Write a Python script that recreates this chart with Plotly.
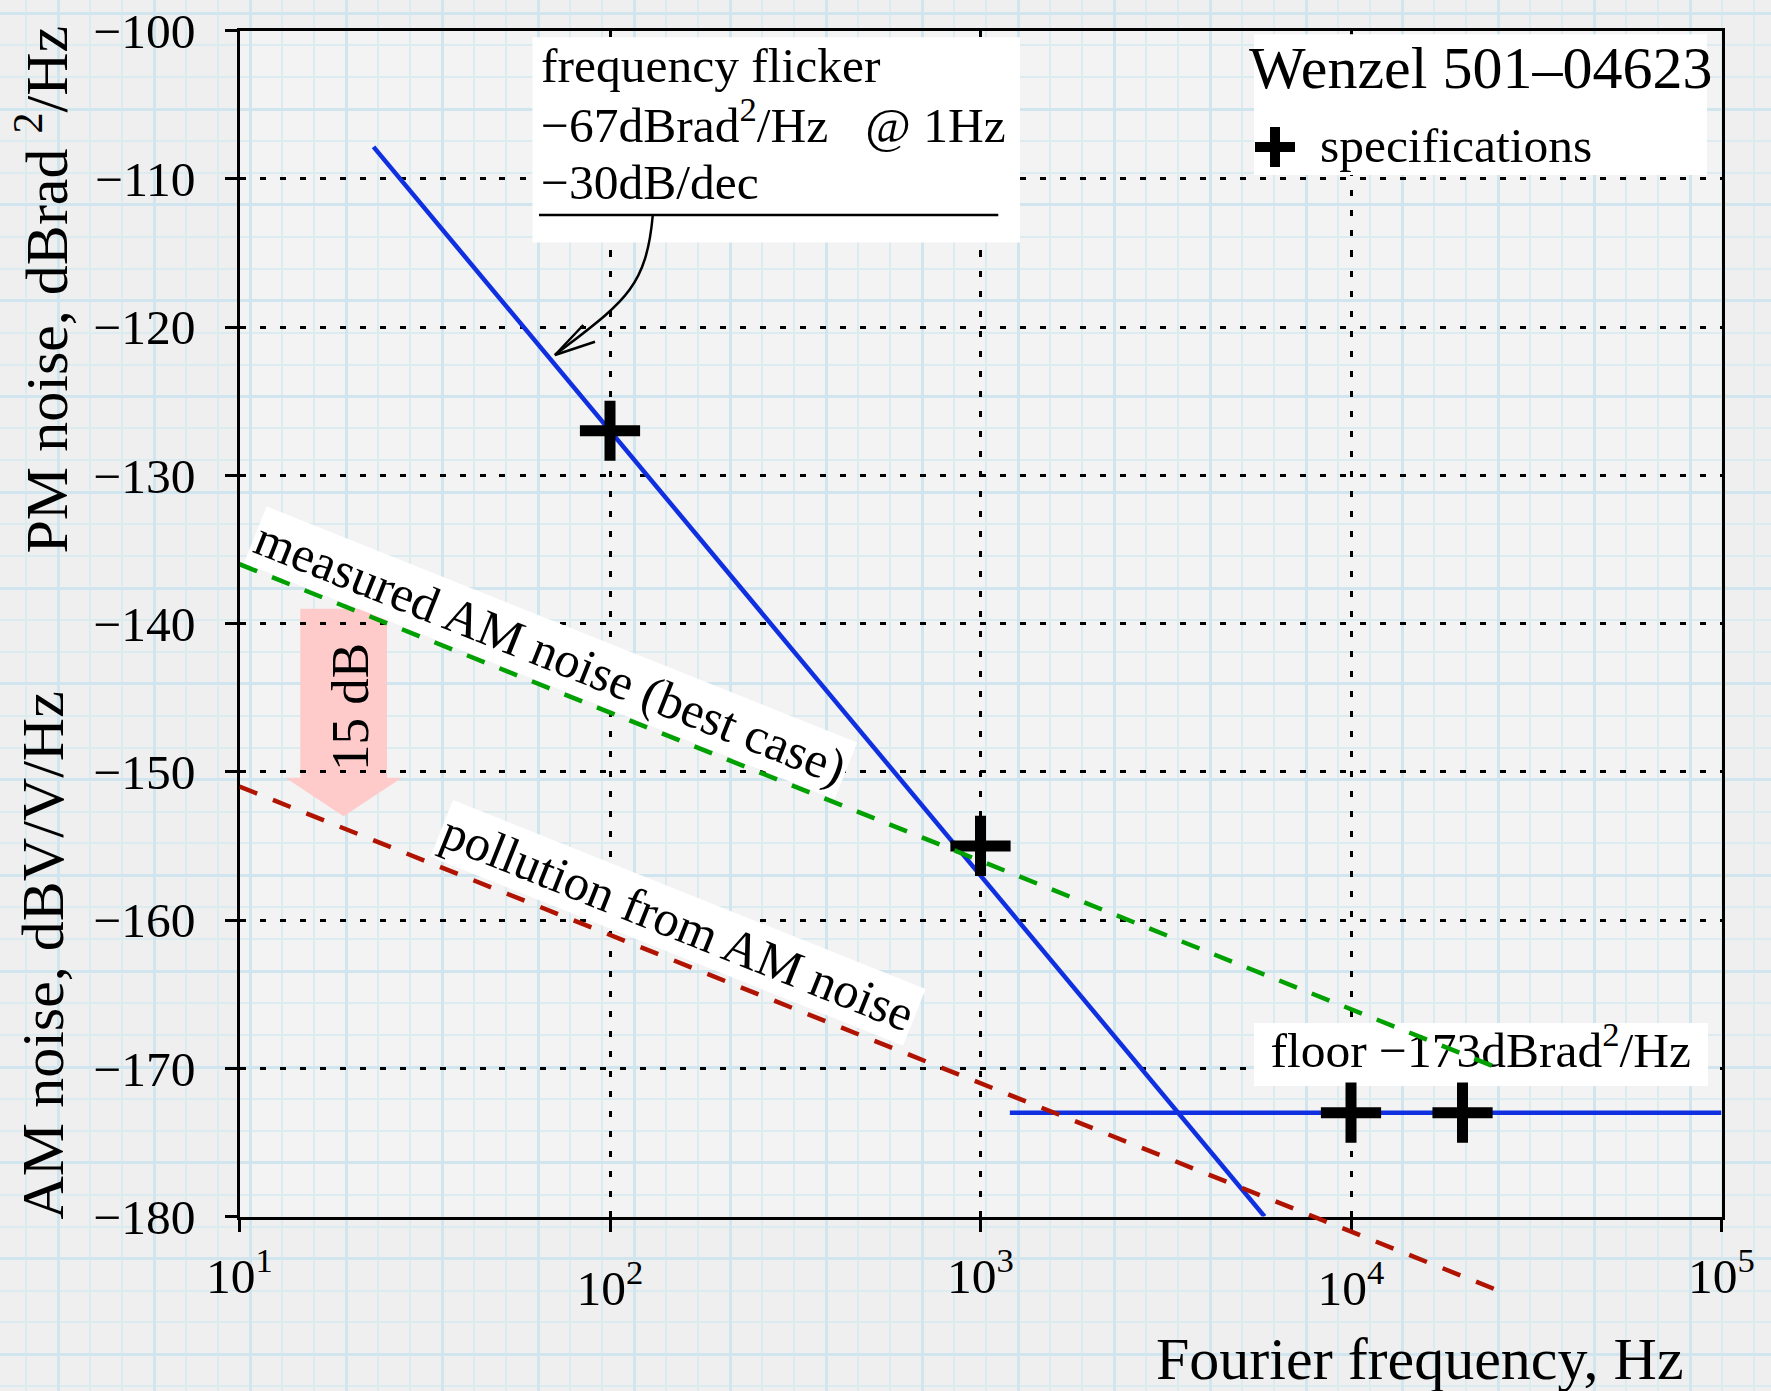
import math
import plotly.graph_objects as go

W, H = 1771, 1391
FONT = "Liberation Serif"

# ---------------- data ----------------
decades = [10, 100, 1000, 10000, 100000]
decade_labels = ["10<sup>1</sup>", "10<sup>2</sup>", "10<sup>3</sup>",
                 "10<sup>4</sup>", "10<sup>5</sup>"]
db_ticks = [-180, -170, -160, -150, -140, -130, -120, -110, -100]

# datasheet specification points (PM noise)
spec_freq = [100, 1000, 10000, 20000]
spec_noise = [-127, -155, -173, -173]

# frequency flicker: -67 dBrad^2/Hz at 1 Hz, -30 dB/dec
flicker_freq = [23, 5843]
flicker_noise = [-107.85, -180.0]

# white phase floor
floor_freq = [1200, 100000]
floor_noise = [-173, -173]

# AM noise, measured (best case) and its pollution on the PM measurement
am_freq = [10, 25000]
am_measured = [-136, -170]
am_pollution = [-151, -185]

# 15 dB gap marker between the two AM lines
gap_freq = 19.1
gap_top, gap_head, gap_tip = -139.0, -150.4, -153.0

# ---------------- geometry ----------------
PL, PR, PT, PB = 239.5, 1721.5, 30.5, 1216.5   # plot frame, px
x_dom = [PL / W, PR / W]
y_dom = [1 - PB / H, 1 - PT / H]
paper_per_db = (y_dom[1] - y_dom[0]) / 80.0
EXT_LOW = -190
y3_dom = [y_dom[1] - (-100 - EXT_LOW) * paper_per_db, y_dom[1]]


def px(x):
    return x / W


def py(y):
    return 1 - y / H


def pt(x, y):
    return f"{px(x):.5f},{py(y):.5f}"


BLUE = "#0f2fe0"
GREEN = "#00a000"
RED = "#b01400"
PINK = "#ffcaca"
MINOR = "#dcebf0"
MAJOR = "#d0e5ed"

TICK_SIZE = 49.5
TITLE_SIZE = 60
LABEL_SIZE = 49.5

fig = go.Figure()

# graph-paper backdrop (pixel axes spanning the whole page)
fig.add_trace(go.Scatter(x=[], y=[], xaxis="x", yaxis="y",
                         showlegend=False, hoverinfo="skip"))

# main plot
fig.add_trace(go.Scatter(x=flicker_freq, y=flicker_noise, mode="lines",
                         line=dict(color=BLUE, width=4.5),
                         xaxis="x2", yaxis="y2", showlegend=False))
fig.add_trace(go.Scatter(x=floor_freq, y=floor_noise, mode="lines",
                         line=dict(color=BLUE, width=4.5),
                         xaxis="x2", yaxis="y2", showlegend=False))
fig.add_trace(go.Scatter(x=spec_freq, y=spec_noise, mode="markers",
                         marker=dict(symbol="cross-thin", size=43, color="black",
                                     line=dict(color="black", width=11)),
                         xaxis="x2", yaxis="y2", showlegend=False))
fig.add_trace(go.Scatter(x=[22400], y=[-169.1], mode="text",
                         text=["floor \u2212173dBrad<sup>2</sup>/Hz"],
                         textposition="middle center",
                         textfont=dict(family=FONT, size=LABEL_SIZE, color="black"),
                         xaxis="x2", yaxis="y2", showlegend=False, hoverinfo="skip"))
fig.add_trace(go.Scatter(x=am_freq, y=am_measured, mode="lines",
                         line=dict(color=GREEN, width=4.5, dash="19px,16px"),
                         xaxis="x2", yaxis="y2", showlegend=False))

# pollution line runs past the bottom of the frame: extended axes
fig.add_trace(go.Scatter(x=am_freq, y=am_pollution, mode="lines",
                         line=dict(color=RED, width=4.5, dash="19px,17px"),
                         xaxis="x3", yaxis="y3", showlegend=False))

# staggered labels for 10^2 and 10^4
fig.add_trace(go.Scatter(x=[], y=[], xaxis="x4", yaxis="y2",
                         showlegend=False, hoverinfo="skip"))

tick_font = dict(family=FONT, size=TICK_SIZE, color="black")
frame = dict(showline=True, linewidth=3, linecolor="black", mirror=True,
             ticks="outside", ticklen=12, tickwidth=2.5, tickcolor="black",
             showgrid=True, gridcolor="black", gridwidth=3, griddash="6px,14px",
             zeroline=False, tickfont=tick_font, fixedrange=True, automargin=False)
hidden = dict(showgrid=False, showline=False, zeroline=False, showticklabels=False,
              ticks="", fixedrange=True, automargin=False)

fig.update_layout(
    template="none",
    width=W, height=H,
    margin=dict(l=0, r=0, t=0, b=0, pad=0, autoexpand=False),
    paper_bgcolor="#efefef",
    plot_bgcolor="rgba(0,0,0,0)",
    font=dict(family=FONT, color="black"),
    showlegend=False,
    xaxis=dict(domain=[0, 1], range=[0, W], tick0=58.3, dtick=96,
               showgrid=True, gridcolor=MAJOR, gridwidth=3,
               minor=dict(tick0=58.3, dtick=32, showgrid=True,
                          gridcolor=MINOR, gridwidth=2),
               showticklabels=False, ticks="", zeroline=False,
               showline=False, fixedrange=True, automargin=False),
    yaxis=dict(domain=[0, 1], range=[H, 0], tick0=13.3, dtick=95.8,
               showgrid=True, gridcolor=MAJOR, gridwidth=3,
               minor=dict(tick0=13.3, dtick=31.93, showgrid=True,
                          gridcolor=MINOR, gridwidth=2),
               showticklabels=False, ticks="", zeroline=False,
               showline=False, fixedrange=True, automargin=False),
    xaxis2=dict(domain=x_dom, anchor="y2", type="log", range=[1, 5],
                tickvals=decades,
                ticktext=[t if i % 2 == 0 else "" for i, t in enumerate(decade_labels)],
                ticklabelstandoff=2, **frame),
    yaxis2=dict(domain=y_dom, anchor="x2", range=[-180, -100],
                tickvals=db_ticks, ticklabelstandoff=19, **frame),
    xaxis3=dict(domain=x_dom, anchor="y3", type="log", range=[1, 5], **hidden),
    yaxis3=dict(domain=y3_dom, anchor="x3", range=[EXT_LOW, -100], **hidden),
    xaxis4=dict(overlaying="x2", anchor="y2", side="bottom", type="log", range=[1, 5],
                tickvals=[decades[1], decades[3]],
                ticktext=[decade_labels[1], decade_labels[3]],
                ticks="outside", ticklen=12, tickcolor="rgba(0,0,0,0)",
                ticklabelstandoff=16, tickfont=tick_font,
                showgrid=False, showline=False, zeroline=False, fixedrange=True,
                automargin=False),
)

# ---------------- shapes ----------------
lg = math.log10
gw_body, gw_head = 0.117, 0.157
gc = lg(gap_freq)
bl, br = 10 ** (gc - gw_body), 10 ** (gc + gw_body)
hl, hr = 10 ** (gc - gw_head), 10 ** (gc + gw_head)
gap_path = (f"M{bl:.3f},{gap_top} L{br:.3f},{gap_top} L{br:.3f},{gap_head} "
            f"L{hr:.3f},{gap_head} L{gap_freq:.3f},{gap_tip} L{hl:.3f},{gap_head} "
            f"L{bl:.3f},{gap_head} Z")

shapes = [
    # slightly lighter sheet inside the frame, under the graph paper
    dict(type="rect", xref="paper", yref="paper", x0=x_dom[0], x1=x_dom[1],
         y0=y_dom[0], y1=y_dom[1], layer="below", fillcolor="#f3f3f3",
         line=dict(width=0)),
    # pink 15 dB arrow, under the dotted grid
    dict(type="path", xref="x2", yref="y2", path=gap_path, layer="below",
         fillcolor=PINK, line=dict(width=0)),
    # white box behind the floor label
    dict(type="rect", xref="x2", yref="y2", x0=5472, x1=91960, y0=-171.2, y1=-166.95,
         layer="between", fillcolor="white", line=dict(width=0)),
    # flicker label box, rule and pointer
    dict(type="rect", xref="paper", yref="paper", x0=px(532.5), x1=px(1020),
         y0=py(242.5), y1=py(37.3), fillcolor="white", line=dict(width=0), layer="above"),
    dict(type="line", xref="paper", yref="paper", x0=px(539), x1=px(998.3),
         y0=py(215), y1=py(215), line=dict(color="black", width=2.5), layer="above"),
    dict(type="path", xref="paper", yref="paper", layer="above",
         path=f"M{pt(652.7, 216)} C{pt(646, 290)} {pt(622, 303)} {pt(555, 355)}",
         line=dict(color="black", width=2.5)),
    dict(type="path", xref="paper", yref="paper", layer="above",
         path=f"M{pt(583.3, 325)} L{pt(555, 355)} L{pt(595, 341.7)}",
         line=dict(color="black", width=2.5)),
    # legend box and its symbol
    dict(type="rect", xref="paper", yref="paper", x0=px(1254), x1=px(1707),
         y0=py(175), y1=py(34.3), fillcolor="white", line=dict(width=0), layer="above"),
    dict(type="line", xref="paper", yref="paper", x0=px(1255), x1=px(1295),
         y0=py(147), y1=py(147), line=dict(color="black", width=10), layer="above"),
    dict(type="line", xref="paper", yref="paper", x0=px(1275), x1=px(1275),
         y0=py(127), y1=py(167), line=dict(color="black", width=10), layer="above"),
]
fig.update_layout(shapes=shapes)


# ---------------- text ----------------
def note(text, x, y, size, **kw):
    d = dict(text=text, x=x, y=y, xref=kw.pop("xref", "paper"), yref=kw.pop("yref", "paper"),
             showarrow=False, font=dict(family=FONT, size=size, color="black"),
             xanchor=kw.pop("xanchor", "center"), yanchor=kw.pop("yanchor", "middle"))
    d.update(kw)
    return d


annotations = [
    note("PM noise, dBrad <sup>2</sup>/Hz", px(42), py(289.5), TITLE_SIZE, textangle=-90),
    note("AM noise, dBV/V/Hz", px(42), py(955.5), TITLE_SIZE, textangle=-90),
    note("Fourier frequency, Hz", px(1420), py(1359), TITLE_SIZE),
    note("frequency flicker", px(539), py(65.5), LABEL_SIZE, xanchor="left"),
    note("\u221267dBrad<sup>2</sup>/Hz\u00a0\u00a0\u00a0@ 1Hz", px(539), py(121.5),
         LABEL_SIZE, xanchor="left"),
    note("\u221230dB/dec", px(539), py(182), LABEL_SIZE, xanchor="left"),
    note("Wenzel 501\u201304623", px(1247), py(68), TITLE_SIZE, xanchor="left"),
    note("specifications", px(1318), py(145.5), LABEL_SIZE, xanchor="left"),
    note("measured AM noise (best case)", lg(69.3), -142.0, 50.5, xref="x2", yref="y2",
         textangle=21.8, bgcolor="white", borderpad=2),
    note("pollution from AM noise", lg(153), -160.2, 50.5, xref="x2", yref="y2",
         textangle=21.8, bgcolor="white", borderpad=2),
    note("15 dB", lg(19.8), -145.6, 53, xref="x2", yref="y2", textangle=-90),
]
fig.update_layout(annotations=annotations)

fig.write_html("out.html")
